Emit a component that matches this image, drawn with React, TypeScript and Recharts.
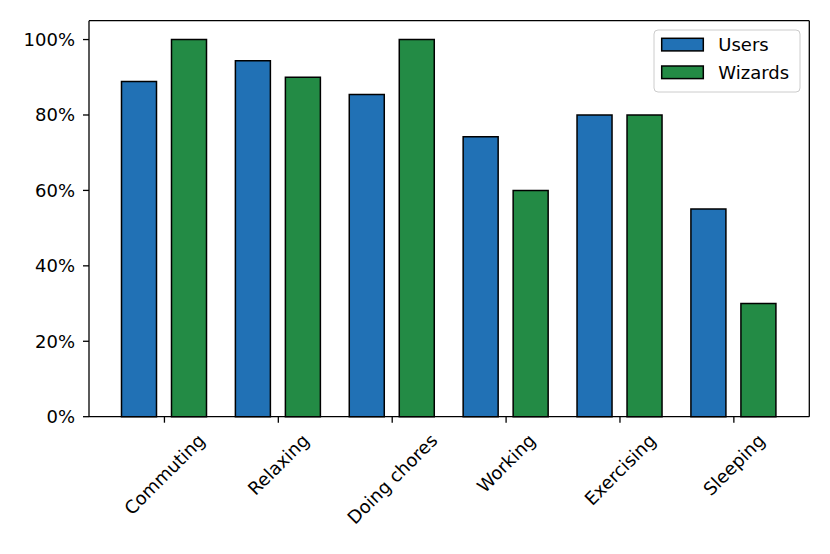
import React from 'react';
import { BarChart, Bar, XAxis, YAxis, Legend } from 'recharts';

const categories = ['Commuting', 'Relaxing', 'Doing chores', 'Working', 'Exercising', 'Sleeping'];
const users = [88.9, 94.4, 85.4, 74.2, 80, 55.1];
const wizards = [100, 90, 100, 60, 80, 30];
const yTicks = [0, 20, 40, 60, 80, 100];

const FONT = '"DejaVu Sans", sans-serif';
const BLUE = '#2171b5';
const GREEN = '#238b45';

const data = categories.map((c, i) => ({ name: c, Users: users[i], Wizards: wizards[i] }));

let ctx: CanvasRenderingContext2D | null = null;
function textWidth(s: string) {
  if (!ctx) {
    ctx = document.createElement('canvas').getContext('2d');
    if (ctx) ctx.font = '18px "DejaVu Sans"';
  }
  return ctx ? ctx.measureText(s).width : s.length * 10;
}

// rotated label, centred on the tick, top of its rotated box at y
const XTick = (props: any) => {
  const { x, y, payload } = props;
  const w = textWidth(payload.value);
  const cy = y + ((w + 21) * Math.SQRT1_2) / 2;
  return (
    <text
      x={x}
      y={cy}
      transform={`rotate(-45, ${x}, ${cy})`}
      textAnchor="middle"
      dominantBaseline="central"
      fontSize={18}
      fontFamily={FONT}
      fill="#000"
    >
      {payload.value}
    </text>
  );
};

const LegendBox = (props: any) => {
  const items = props.payload ?? [];
  return (
    <svg width={148} height={64} style={{ display: 'block' }}>
      <rect x={1} y={1} width={146} height={62} rx={4} fill="#fff" fillOpacity={0.8} stroke="#ccc" strokeWidth={1} />
      {items.map((it: any, i: number) => (
        <g key={it.value}>
          <rect x={8.7} y={9.3 + i * 27.7} width={41.6} height={12.6} fill={it.color} stroke="#000" strokeWidth={1.5} />
          <text x={65.3} y={15.6 + i * 27.7} dominantBaseline="central" fontSize={18} fontFamily={FONT} fill="#000">
            {it.value}
          </text>
        </g>
      ))}
    </svg>
  );
};

export default function App() {
  return (
    <div style={{ position: 'absolute', left: 0, top: 0, background: '#fff' }}>
      <BarChart
        width={830}
        height={554}
        data={data}
        margin={{ top: 19.7, right: 19.7, bottom: 0, left: 0 }}
        barSize={35}
        barGap={15}
      >
        <XAxis
          dataKey="name"
          height={137.3}
          padding={{ left: 18.5, right: 18.5 }}
          axisLine={{ stroke: '#000', strokeWidth: 1.3 }}
          tickLine={{ stroke: '#000', strokeWidth: 1.3 }}
          tickSize={6}
          tickMargin={7}
          interval={0}
          tick={<XTick />}
        />
        <XAxis xAxisId="top" dataKey="name" orientation="top" height={1} tick={false} tickLine={false} axisLine={{ stroke: '#000', strokeWidth: 1.3 }} />
        <YAxis
          width={89}
          domain={[0, 105]}
          ticks={yTicks}
          tickFormatter={(v: number) => `${v}%`}
          axisLine={{ stroke: '#000', strokeWidth: 1.3 }}
          tickLine={{ stroke: '#000', strokeWidth: 1.3 }}
          tickSize={6}
          tickMargin={8}
          tick={{ fontSize: 18, fontFamily: FONT, fill: '#000' }}
        />
        <YAxis yAxisId="right" orientation="right" width={1} domain={[0, 105]} tick={false} tickLine={false} axisLine={{ stroke: '#000', strokeWidth: 1.3 }} />
        <Legend
          content={<LegendBox />}
          layout="horizontal"
          verticalAlign="middle"
          align="center"
          wrapperStyle={{ position: 'absolute', top: 29, left: 653, width: 148, height: 64 }}
        />
        <Bar dataKey="Users" fill={BLUE} stroke="#000" strokeWidth={1.5} isAnimationActive={false} />
        <Bar dataKey="Wizards" fill={GREEN} stroke="#000" strokeWidth={1.5} isAnimationActive={false} />
      </BarChart>
    </div>
  );
}
